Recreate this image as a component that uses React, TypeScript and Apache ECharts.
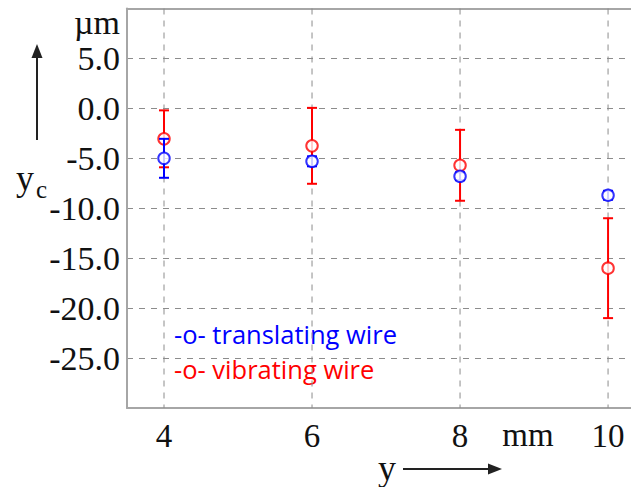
import React, { useEffect, useRef } from "react";
import * as echarts from "echarts";

const xTicks = [4, 6, 8, 10];
const xs = [4, 6, 8, 10];
const translatingY = [-5.0, -5.3, -6.8, -8.7];
const translatingErr = [1.95, 0.5, 0.4, 0.45];
const vibratingY = [-3.05, -3.75, -5.7, -16.0];
const vibratingErr = [2.85, 3.8, 3.55, 5.0];
const legendLabels = ["-o- translating wire", "-o- vibrating wire"];

const BLUE = "#0000ff";
const RED = "#ff0000";
const SERIF = "'Liberation Serif', 'Times New Roman', serif";
const SANS = "'Open Sans', 'Noto Sans', sans-serif";
const BORDER = "#a6a6a6";
const GRIDLINE = "#8c8c8c";
const Y_MIN = -30;
const Y_MAX = 10;

function errorSeries(name: string, ys: number[], errs: number[], color: string) {
  return {
    type: "custom",
    name,
    z: color === BLUE ? 4 : 2,
    clip: false,
    data: xs.map((x, i) => [x, ys[i] - errs[i], ys[i] + errs[i]]),
    renderItem: (params: any, api: any) => {
      const lo = api.coord([api.value(0), api.value(1)]);
      const hi = api.coord([api.value(0), api.value(2)]);
      const w = 5;
      const style = { stroke: color, lineWidth: 2 };
      return {
        type: "group",
        children: [
          { type: "line", shape: { x1: lo[0], y1: lo[1], x2: hi[0], y2: hi[1] }, style },
          { type: "line", shape: { x1: lo[0] - w, y1: lo[1], x2: lo[0] + w, y2: lo[1] }, style },
          { type: "line", shape: { x1: hi[0] - w, y1: hi[1], x2: hi[0] + w, y2: hi[1] }, style },
        ],
      };
    },
  };
}

function pointSeries(name: string, ys: number[], color: string) {
  return {
    type: "scatter",
    name,
    z: color === BLUE ? 5 : 3,
    symbol: "emptyCircle",
    symbolSize: 11.5,
    itemStyle: { color, borderColor: color, borderWidth: 2.2 },
    data: xs.map((x, i) => [x, ys[i]]),
  };
}

// vertical dashed grid lines at the x ticks
const xGridSeries = {
  type: "custom",
  name: "x grid",
  z: 1,
  silent: true,
  data: xTicks.map((x) => [x]),
  renderItem: (params: any, api: any) => {
    const top = api.coord([api.value(0), Y_MAX]);
    const bottom = api.coord([api.value(0), Y_MIN]);
    return {
      type: "line",
      shape: { x1: top[0], y1: top[1], x2: bottom[0], y2: bottom[1] },
      style: { stroke: GRIDLINE, lineWidth: 1, lineDash: [6, 6] },
    };
  },
};

export default function App() {
  const ref = useRef<HTMLDivElement>(null);
  useEffect(() => {
    if (!ref.current) return;
    const chart = echarts.init(ref.current, null, { renderer: "svg" });
    const arrowColor = "#222";
    const xMin = 3.5;
    const xMax = 10.31;
    chart.setOption({
      animation: false,
      backgroundColor: "#ffffff",
      grid: {
        left: 127,
        top: 8.5,
        right: 0,
        bottom: 79,
        show: false,
        outerBoundsMode: "none",
      },
      xAxis: [
        {
          type: "value",
          position: "bottom",
          min: xMin,
          max: xMax,
          axisLine: { show: true, onZero: false, lineStyle: { color: BORDER, width: 2 } },
          axisTick: { show: false, customValues: xTicks },
          axisLabel: {
            customValues: xTicks,
            margin: 11,
            fontFamily: SERIF,
            fontSize: 33,
            color: "#111",
          },
          splitLine: { show: false },
        },
        {
          type: "value",
          position: "top",
          min: xMin,
          max: xMax,
          axisLine: { show: true, onZero: false, lineStyle: { color: BORDER, width: 2 } },
          axisTick: { show: false },
          axisLabel: { show: false },
          splitLine: { show: false },
        },
      ],
      yAxis: {
        type: "value",
        min: Y_MIN,
        max: Y_MAX,
        interval: 5,
        axisLine: { show: true, onZero: false, lineStyle: { color: BORDER, width: 2 } },
        axisTick: { show: false },
        axisLabel: {
          margin: 7,
          fontFamily: SERIF,
          fontSize: 34,
          color: "#111",
          formatter: (v: number) => (v <= Y_MIN || v >= Y_MAX ? "" : v.toFixed(1)),
        },
        splitLine: { show: true, lineStyle: { color: GRIDLINE, type: [6, 6], width: 1 } },
      },
      series: [
        xGridSeries,
        errorSeries("vibrating err", vibratingY, vibratingErr, RED),
        pointSeries(legendLabels[1], vibratingY, RED),
        errorSeries("translating err", translatingY, translatingErr, BLUE),
        pointSeries(legendLabels[0], translatingY, BLUE),
      ],
      graphic: [
        {
          type: "text",
          x: 120,
          y: 22,
          style: { text: "µm", fontFamily: SERIF, fontSize: 34, fill: "#111", align: "right", verticalAlign: "middle" },
        },
        {
          type: "line",
          shape: { x1: 37, y1: 140, x2: 37, y2: 56 },
          style: { stroke: arrowColor, lineWidth: 2 },
        },
        {
          type: "polygon",
          shape: { points: [[37, 44], [31.5, 58], [42.5, 58]] },
          style: { fill: arrowColor },
        },
        {
          type: "text",
          x: 16,
          y: 178,
          style: { text: "y", fontFamily: SERIF, fontSize: 36, fill: "#111", align: "left", verticalAlign: "middle" },
        },
        {
          type: "text",
          x: 36,
          y: 189,
          style: { text: "c", fontFamily: SERIF, fontSize: 25, fill: "#111", align: "left", verticalAlign: "middle" },
        },
        {
          type: "text",
          x: 528,
          y: 434.5,
          style: { text: "mm", fontFamily: SERIF, fontSize: 33, fill: "#111", align: "center", verticalAlign: "middle" },
        },
        {
          type: "text",
          x: 387,
          y: 468,
          style: { text: "y", fontFamily: SERIF, fontSize: 36, fill: "#111", align: "center", verticalAlign: "middle" },
        },
        {
          type: "line",
          shape: { x1: 403, y1: 469, x2: 490, y2: 469 },
          style: { stroke: arrowColor, lineWidth: 2 },
        },
        {
          type: "polygon",
          shape: { points: [[502, 469], [488, 463.5], [488, 474.5]] },
          style: { fill: arrowColor },
        },
        {
          type: "text",
          x: 174,
          y: 334,
          style: { text: legendLabels[0], fontFamily: SANS, fontSize: 25.5, fill: BLUE, align: "left", verticalAlign: "middle" },
        },
        {
          type: "text",
          x: 174,
          y: 369,
          style: { text: legendLabels[1], fontFamily: SANS, fontSize: 25.5, fill: RED, align: "left", verticalAlign: "middle" },
        },
      ],
    });
    return () => chart.dispose();
  }, []);
  return (
    <div
      ref={ref}
      style={{ position: "fixed", left: 0, top: 0, width: 631, height: 487, background: "#fff" }}
    />
  );
}
